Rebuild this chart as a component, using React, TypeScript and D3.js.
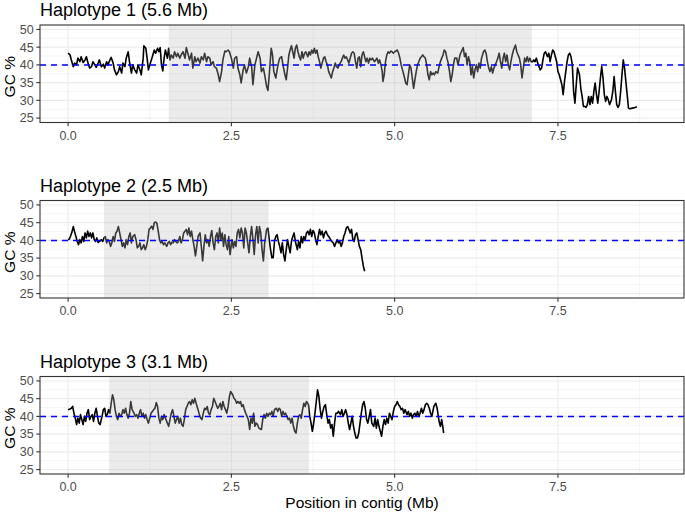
import React from 'react';
import * as d3 from 'd3';

type Pt = [number, number];

// GC content (%) in sliding windows, position in Mb
const hap1: Pt[] = [
  [0.0, 43.3], [0.03, 42.8], [0.05, 41.4], [0.08, 39.5], [0.1, 40.5], [0.13, 40.0], [0.15, 41.9], [0.18, 40.9],
  [0.2, 42.3], [0.23, 40.7], [0.26, 41.4], [0.28, 42.3], [0.31, 40.2], [0.33, 39.1], [0.36, 39.5], [0.38, 40.9],
  [0.41, 40.0], [0.43, 39.3], [0.46, 40.5], [0.48, 41.4], [0.51, 39.5], [0.54, 40.2], [0.56, 39.1], [0.59, 40.9],
  [0.61, 40.0], [0.64, 41.4], [0.66, 42.1], [0.69, 40.5], [0.71, 38.6], [0.74, 37.2], [0.77, 38.1], [0.79, 39.5],
  [0.82, 37.7], [0.84, 40.5], [0.87, 39.5], [0.89, 41.9], [0.92, 43.7], [0.94, 40.9], [0.97, 37.7], [0.99, 40.0],
  [1.02, 38.6], [1.05, 37.7], [1.07, 40.0], [1.1, 38.6], [1.12, 37.2], [1.15, 41.9], [1.16, 45.4], [1.19, 44.7],
  [1.21, 41.9], [1.23, 38.6], [1.26, 40.5], [1.29, 42.3], [1.32, 44.2], [1.34, 43.3], [1.37, 44.7], [1.39, 43.7],
  [1.41, 44.9], [1.43, 40.0], [1.45, 38.3], [1.47, 41.9], [1.49, 44.2], [1.52, 41.9], [1.54, 44.7], [1.56, 41.4],
  [1.58, 42.8], [1.61, 41.9], [1.63, 43.7], [1.66, 42.3], [1.68, 43.3], [1.71, 41.9], [1.73, 42.8], [1.76, 43.7],
  [1.79, 41.9], [1.81, 44.9], [1.84, 42.8], [1.86, 41.4], [1.89, 43.3], [1.91, 39.1], [1.94, 42.3], [1.96, 40.9],
  [1.99, 41.9], [2.02, 40.5], [2.04, 42.3], [2.07, 41.4], [2.09, 43.3], [2.12, 40.9], [2.14, 42.3], [2.17, 41.9],
  [2.19, 40.0], [2.22, 40.9], [2.24, 39.5], [2.27, 39.1], [2.3, 37.2], [2.32, 35.3], [2.35, 38.1], [2.37, 41.4],
  [2.4, 43.9], [2.42, 43.7], [2.45, 44.2], [2.47, 43.7], [2.5, 41.9], [2.53, 39.1], [2.55, 41.9], [2.58, 42.3],
  [2.6, 39.1], [2.63, 37.2], [2.65, 34.9], [2.68, 38.6], [2.7, 40.0], [2.73, 37.7], [2.76, 39.5], [2.78, 41.9],
  [2.81, 39.5], [2.83, 34.4], [2.86, 40.0], [2.91, 43.7], [2.94, 41.9], [2.96, 38.1], [2.99, 39.1], [3.01, 37.2],
  [3.04, 33.9], [3.06, 32.8], [3.08, 37.2], [3.1, 42.3], [3.11, 44.7], [3.13, 42.8], [3.15, 38.1], [3.18, 36.3],
  [3.2, 38.6], [3.22, 40.5], [3.24, 41.9], [3.27, 42.3], [3.29, 40.0], [3.32, 37.2], [3.34, 35.8], [3.36, 39.1],
  [3.38, 42.8], [3.4, 44.2], [3.42, 45.4], [3.44, 43.7], [3.46, 41.9], [3.48, 44.7], [3.5, 45.6], [3.52, 43.7],
  [3.54, 42.3], [3.56, 41.4], [3.58, 43.7], [3.6, 41.9], [3.62, 43.3], [3.64, 43.7], [3.67, 42.3], [3.69, 43.7],
  [3.71, 42.8], [3.73, 44.2], [3.75, 43.3], [3.77, 44.7], [3.79, 43.3], [3.81, 44.2], [3.83, 42.3], [3.85, 40.9],
  [3.87, 39.1], [3.89, 40.5], [3.91, 41.9], [3.93, 42.3], [3.95, 40.9], [3.97, 40.0], [3.99, 38.1], [4.01, 37.2],
  [4.03, 36.3], [4.05, 38.1], [4.07, 39.1], [4.09, 40.5], [4.11, 39.5], [4.13, 39.1], [4.15, 40.0], [4.18, 40.9],
  [4.2, 41.9], [4.22, 42.8], [4.24, 41.9], [4.26, 42.3], [4.28, 41.4], [4.3, 40.5], [4.32, 41.9], [4.34, 43.3],
  [4.36, 43.7], [4.38, 43.3], [4.4, 40.9], [4.42, 39.1], [4.44, 41.9], [4.46, 42.3], [4.48, 39.5], [4.5, 42.8],
  [4.52, 43.7], [4.54, 42.3], [4.56, 40.9], [4.58, 41.9], [4.6, 40.5], [4.62, 41.9], [4.64, 41.4], [4.66, 41.9],
  [4.69, 40.9], [4.71, 41.4], [4.73, 41.9], [4.75, 40.5], [4.77, 41.4], [4.79, 40.0], [4.81, 38.1], [4.82, 35.3],
  [4.84, 37.2], [4.86, 40.9], [4.88, 42.8], [4.9, 43.7], [4.92, 43.3], [4.94, 43.9], [4.96, 43.7], [4.98, 43.3],
  [5.0, 43.7], [5.02, 43.9], [5.04, 44.2], [5.06, 43.3], [5.08, 41.9], [5.1, 40.0], [5.12, 38.6], [5.14, 37.2],
  [5.17, 34.9], [5.19, 34.4], [5.21, 37.2], [5.23, 40.0], [5.25, 39.1], [5.27, 36.3], [5.29, 33.4], [5.31, 35.8],
  [5.33, 38.1], [5.35, 40.0], [5.37, 40.9], [5.39, 41.9], [5.41, 42.3], [5.43, 42.8], [5.45, 42.3], [5.47, 41.9],
  [5.49, 40.0], [5.51, 37.2], [5.53, 35.8], [5.55, 38.1], [5.57, 37.2], [5.59, 37.7], [5.61, 37.2], [5.63, 38.1],
  [5.66, 37.7], [5.68, 39.5], [5.7, 40.9], [5.72, 41.9], [5.74, 42.8], [5.76, 44.2], [5.78, 43.7], [5.8, 41.9],
  [5.82, 40.5], [5.84, 38.1], [5.86, 35.3], [5.88, 37.2], [5.9, 40.0], [5.92, 41.9], [5.95, 41.9], [5.97, 40.0],
  [6.0, 42.8], [6.02, 43.7], [6.05, 44.9], [6.07, 42.3], [6.09, 43.3], [6.11, 40.0], [6.13, 42.3], [6.15, 40.9],
  [6.17, 37.2], [6.19, 39.5], [6.21, 36.3], [6.23, 38.6], [6.25, 40.0], [6.27, 38.1], [6.29, 40.5], [6.31, 39.1],
  [6.33, 41.9], [6.36, 43.7], [6.38, 44.2], [6.4, 43.3], [6.42, 40.9], [6.44, 39.1], [6.46, 38.1], [6.48, 39.5],
  [6.5, 37.7], [6.52, 39.1], [6.54, 40.0], [6.56, 40.9], [6.58, 41.9], [6.6, 43.3], [6.62, 40.9], [6.64, 39.1],
  [6.66, 41.9], [6.68, 43.3], [6.7, 40.9], [6.72, 42.8], [6.74, 40.0], [6.76, 38.6], [6.78, 40.9], [6.8, 42.8],
  [6.82, 44.2], [6.85, 45.6], [6.87, 43.7], [6.89, 42.8], [6.91, 41.9], [6.93, 40.0], [6.95, 36.3], [6.97, 39.1],
  [6.99, 41.9], [7.01, 40.9], [7.03, 42.3], [7.05, 40.9], [7.07, 41.9], [7.09, 40.9], [7.11, 40.9], [7.13, 41.4],
  [7.15, 40.9], [7.17, 41.9], [7.19, 40.5], [7.21, 39.5], [7.23, 38.6], [7.25, 39.1], [7.27, 41.4], [7.29, 43.3],
  [7.31, 43.7], [7.34, 42.3], [7.36, 43.3], [7.38, 40.9], [7.4, 42.8], [7.42, 44.2], [7.44, 43.7], [7.46, 42.3],
  [7.48, 40.9], [7.5, 38.1], [7.52, 37.2], [7.54, 35.8], [7.56, 34.4], [7.58, 31.6], [7.6, 35.3], [7.62, 38.1],
  [7.64, 40.9], [7.66, 42.8], [7.68, 43.3], [7.7, 42.3], [7.72, 40.0], [7.74, 32.5], [7.76, 29.2], [7.78, 34.4],
  [7.8, 39.1], [7.83, 37.2], [7.85, 33.4], [7.87, 31.1], [7.89, 28.3], [7.91, 28.3], [7.93, 28.0], [7.95, 28.8],
  [7.97, 31.1], [7.99, 28.8], [8.01, 31.1], [8.03, 29.2], [8.05, 32.5], [8.07, 34.9], [8.09, 31.6], [8.11, 29.2],
  [8.13, 32.5], [8.15, 36.3], [8.17, 39.5], [8.19, 36.3], [8.21, 31.6], [8.23, 29.7], [8.25, 31.1], [8.27, 30.2],
  [8.29, 28.8], [8.32, 30.2], [8.34, 32.5], [8.36, 36.7], [8.38, 32.5], [8.4, 28.8], [8.42, 28.0], [8.44, 28.8],
  [8.46, 32.5], [8.48, 37.2], [8.5, 41.4], [8.52, 39.1], [8.54, 35.3], [8.56, 31.6], [8.58, 27.8], [8.6, 27.6],
  [8.64, 27.8], [8.68, 28.0], [8.71, 28.2],
];

const hap2: Pt[] = [
  [0.0, 40.2], [0.02, 40.4], [0.04, 41.3], [0.06, 42.4], [0.08, 43.9], [0.1, 42.4], [0.12, 41.1], [0.14, 39.7],
  [0.16, 38.8], [0.18, 40.2], [0.2, 39.3], [0.22, 41.1], [0.24, 39.7], [0.26, 42.1], [0.28, 40.7], [0.3, 42.6],
  [0.32, 41.1], [0.34, 42.1], [0.36, 40.7], [0.38, 42.1], [0.4, 40.2], [0.42, 39.7], [0.44, 40.7], [0.46, 39.4],
  [0.48, 39.7], [0.51, 40.2], [0.53, 39.7], [0.55, 40.7], [0.57, 41.1], [0.59, 39.3], [0.61, 40.2], [0.63, 39.7],
  [0.65, 38.3], [0.67, 39.3], [0.69, 41.1], [0.71, 39.7], [0.73, 42.1], [0.75, 42.6], [0.77, 43.9], [0.79, 42.1],
  [0.81, 40.2], [0.83, 38.3], [0.85, 39.3], [0.87, 37.9], [0.89, 40.2], [0.91, 38.8], [0.93, 41.1], [0.95, 42.1],
  [0.97, 39.3], [0.99, 41.1], [1.02, 41.6], [1.04, 40.2], [1.06, 37.9], [1.08, 38.3], [1.1, 39.3], [1.12, 37.4],
  [1.14, 37.9], [1.16, 38.8], [1.18, 37.4], [1.2, 38.3], [1.22, 40.2], [1.24, 43.1], [1.26, 43.5], [1.28, 44.0],
  [1.3, 43.1], [1.32, 45.0], [1.34, 45.2], [1.36, 44.8], [1.38, 42.6], [1.4, 40.2], [1.42, 39.3], [1.44, 39.7],
  [1.46, 38.8], [1.48, 39.3], [1.51, 38.3], [1.53, 39.3], [1.55, 39.7], [1.57, 38.8], [1.59, 39.5], [1.61, 39.3],
  [1.63, 40.2], [1.65, 39.7], [1.67, 39.3], [1.69, 39.7], [1.71, 41.1], [1.73, 39.3], [1.75, 40.2], [1.77, 42.1],
  [1.79, 42.6], [1.81, 43.1], [1.83, 41.6], [1.85, 43.5], [1.87, 41.1], [1.89, 42.6], [1.91, 40.2], [1.93, 38.3],
  [1.95, 35.6], [1.97, 38.3], [1.99, 41.1], [2.02, 42.1], [2.04, 38.3], [2.06, 34.2], [2.08, 38.3], [2.1, 41.6],
  [2.12, 39.3], [2.14, 40.2], [2.16, 38.3], [2.18, 41.1], [2.2, 42.8], [2.22, 39.3], [2.24, 37.4], [2.26, 41.1],
  [2.28, 42.1], [2.3, 39.3], [2.32, 43.5], [2.34, 40.2], [2.36, 42.1], [2.38, 38.3], [2.4, 41.6], [2.42, 38.8],
  [2.44, 37.4], [2.46, 41.1], [2.48, 36.0], [2.51, 40.2], [2.53, 37.9], [2.55, 39.7], [2.57, 38.3], [2.59, 42.1],
  [2.61, 43.1], [2.63, 40.7], [2.65, 43.5], [2.67, 42.1], [2.69, 37.9], [2.71, 43.5], [2.73, 42.1], [2.75, 39.3],
  [2.77, 36.5], [2.79, 41.1], [2.81, 43.9], [2.83, 40.2], [2.85, 36.0], [2.87, 41.6], [2.89, 43.9], [2.91, 39.3],
  [2.93, 43.9], [2.95, 42.1], [2.97, 37.4], [2.99, 34.2], [3.01, 39.3], [3.04, 43.1], [3.06, 43.5], [3.08, 40.2],
  [3.1, 37.4], [3.12, 35.1], [3.14, 35.1], [3.16, 39.7], [3.18, 41.1], [3.2, 41.6], [3.22, 39.7], [3.24, 38.3],
  [3.26, 36.5], [3.28, 39.3], [3.3, 36.0], [3.32, 34.2], [3.34, 37.4], [3.36, 40.2], [3.38, 38.3], [3.4, 36.5],
  [3.42, 39.7], [3.44, 41.1], [3.46, 42.1], [3.48, 39.7], [3.51, 37.4], [3.53, 39.7], [3.55, 37.9], [3.57, 41.1],
  [3.59, 39.3], [3.61, 41.1], [3.63, 40.2], [3.65, 42.1], [3.67, 42.6], [3.69, 41.6], [3.71, 43.1], [3.73, 41.1],
  [3.75, 42.8], [3.77, 42.1], [3.79, 40.2], [3.81, 38.8], [3.83, 41.1], [3.85, 43.1], [3.87, 41.6], [3.89, 42.6],
  [3.91, 40.7], [3.93, 42.1], [3.95, 42.6], [3.97, 41.6], [3.99, 41.1], [4.02, 40.2], [4.04, 39.7], [4.06, 39.3],
  [4.08, 38.3], [4.1, 39.3], [4.12, 40.2], [4.14, 39.3], [4.16, 39.7], [4.18, 38.3], [4.2, 39.3], [4.22, 41.1],
  [4.24, 42.1], [4.26, 43.5], [4.28, 43.9], [4.3, 43.1], [4.32, 42.1], [4.34, 43.1], [4.36, 40.2], [4.38, 39.7],
  [4.4, 41.6], [4.42, 42.1], [4.44, 40.2], [4.46, 38.3], [4.48, 37.4], [4.5, 35.1], [4.52, 32.8], [4.54, 31.3],
];

const hap3: Pt[] = [
  [0.0, 41.9], [0.03, 42.1], [0.05, 42.3], [0.07, 42.8], [0.09, 40.9], [0.11, 39.5], [0.13, 37.7], [0.15, 39.5],
  [0.17, 38.1], [0.19, 40.5], [0.21, 39.1], [0.23, 37.7], [0.25, 40.0], [0.27, 38.6], [0.29, 40.9], [0.31, 41.9],
  [0.33, 39.1], [0.35, 40.0], [0.37, 40.5], [0.39, 38.6], [0.41, 40.9], [0.43, 42.3], [0.45, 40.0], [0.47, 38.1],
  [0.49, 37.7], [0.52, 40.0], [0.54, 41.9], [0.56, 42.3], [0.58, 40.0], [0.6, 40.5], [0.62, 41.9], [0.64, 40.9],
  [0.66, 43.7], [0.68, 46.1], [0.7, 44.7], [0.72, 41.9], [0.74, 40.0], [0.76, 39.1], [0.78, 40.9], [0.8, 40.0],
  [0.82, 40.5], [0.84, 41.9], [0.86, 40.9], [0.88, 42.3], [0.9, 40.5], [0.92, 39.5], [0.94, 40.9], [0.96, 44.2],
  [0.98, 41.9], [1.01, 40.9], [1.03, 40.0], [1.05, 40.5], [1.07, 39.5], [1.09, 40.9], [1.11, 41.9], [1.13, 40.0],
  [1.15, 40.9], [1.17, 39.5], [1.19, 40.5], [1.21, 39.1], [1.23, 38.1], [1.25, 39.5], [1.27, 40.9], [1.29, 41.4],
  [1.31, 41.9], [1.33, 42.3], [1.35, 43.9], [1.37, 42.8], [1.39, 39.5], [1.41, 38.1], [1.43, 40.0], [1.45, 39.1],
  [1.47, 40.5], [1.49, 39.5], [1.52, 38.1], [1.54, 37.2], [1.56, 39.1], [1.58, 40.9], [1.6, 41.9], [1.62, 40.0],
  [1.64, 38.1], [1.66, 39.1], [1.68, 40.0], [1.7, 38.1], [1.72, 39.5], [1.74, 37.7], [1.76, 37.2], [1.78, 39.1],
  [1.8, 41.9], [1.82, 42.8], [1.84, 43.7], [1.86, 44.2], [1.88, 43.3], [1.9, 44.7], [1.92, 43.7], [1.94, 45.1],
  [1.96, 43.7], [1.99, 41.9], [2.01, 40.5], [2.03, 39.5], [2.05, 39.1], [2.07, 40.9], [2.09, 42.3], [2.11, 41.9],
  [2.13, 42.8], [2.15, 40.9], [2.17, 40.5], [2.19, 41.9], [2.21, 42.8], [2.23, 45.1], [2.25, 44.2], [2.27, 43.3],
  [2.29, 42.3], [2.31, 42.8], [2.33, 43.7], [2.35, 41.9], [2.37, 44.2], [2.39, 42.8], [2.41, 41.9], [2.43, 40.9],
  [2.45, 42.8], [2.47, 45.6], [2.49, 47.0], [2.52, 46.1], [2.54, 45.1], [2.56, 44.7], [2.58, 43.7], [2.6, 44.2],
  [2.62, 43.7], [2.64, 44.2], [2.66, 42.8], [2.68, 43.3], [2.7, 41.9], [2.72, 40.9], [2.74, 40.0], [2.76, 39.1],
  [2.78, 36.3], [2.8, 39.5], [2.82, 38.1], [2.84, 40.9], [2.86, 37.2], [2.88, 38.1], [2.9, 37.7], [2.92, 36.7],
  [2.96, 36.3], [2.98, 39.1], [3.0, 40.5], [3.02, 39.5], [3.04, 40.9], [3.06, 40.0], [3.08, 40.9], [3.1, 40.5],
  [3.12, 41.4], [3.14, 40.0], [3.16, 41.9], [3.19, 42.3], [3.21, 41.4], [3.23, 42.3], [3.25, 41.9], [3.27, 40.0],
  [3.29, 41.4], [3.31, 40.5], [3.33, 40.9], [3.35, 40.0], [3.37, 39.1], [3.39, 39.5], [3.41, 38.1], [3.43, 39.5],
  [3.45, 37.2], [3.47, 35.8], [3.49, 35.3], [3.51, 38.1], [3.53, 40.0], [3.55, 40.5], [3.57, 39.5], [3.59, 41.9],
  [3.61, 43.7], [3.63, 42.8], [3.65, 44.2], [3.68, 43.3], [3.7, 40.0], [3.72, 38.1], [3.74, 35.8], [3.76, 38.1],
  [3.78, 40.9], [3.8, 44.2], [3.82, 47.5], [3.84, 45.6], [3.86, 41.9], [3.88, 39.5], [3.9, 41.4], [3.92, 42.8],
  [3.94, 43.3], [3.96, 40.5], [3.98, 38.1], [4.0, 39.1], [4.02, 36.7], [4.04, 37.7], [4.06, 34.4], [4.08, 38.1],
  [4.1, 40.9], [4.12, 40.9], [4.14, 41.4], [4.17, 40.5], [4.19, 41.9], [4.21, 40.0], [4.23, 40.9], [4.25, 41.9],
  [4.27, 40.5], [4.29, 38.1], [4.31, 36.3], [4.33, 38.1], [4.35, 40.0], [4.37, 37.2], [4.39, 35.3], [4.41, 33.9],
  [4.43, 33.9], [4.45, 35.3], [4.47, 38.1], [4.49, 40.9], [4.51, 43.3], [4.53, 44.2], [4.55, 42.3], [4.57, 39.1],
  [4.59, 38.1], [4.61, 40.0], [4.63, 41.9], [4.65, 38.1], [4.68, 37.2], [4.7, 39.5], [4.72, 36.7], [4.74, 39.1],
  [4.76, 37.2], [4.78, 35.8], [4.8, 34.4], [4.82, 37.2], [4.84, 39.1], [4.86, 37.7], [4.88, 39.5], [4.9, 38.1],
  [4.92, 40.9], [4.94, 40.0], [4.96, 39.1], [4.98, 41.4], [5.0, 42.8], [5.02, 43.3], [5.04, 44.2], [5.06, 43.3],
  [5.08, 42.8], [5.1, 41.9], [5.12, 42.3], [5.14, 40.9], [5.16, 41.9], [5.19, 40.5], [5.21, 41.4], [5.23, 40.0],
  [5.25, 40.9], [5.27, 39.5], [5.29, 40.5], [5.31, 40.9], [5.33, 40.0], [5.35, 41.4], [5.37, 40.0], [5.39, 40.9],
  [5.41, 42.3], [5.43, 40.9], [5.45, 41.9], [5.47, 43.3], [5.49, 43.7], [5.51, 43.3], [5.53, 42.3], [5.55, 40.9],
  [5.57, 40.0], [5.59, 41.9], [5.6, 42.8], [5.63, 43.7], [5.65, 42.3], [5.68, 38.6], [5.7, 37.2], [5.72, 39.1],
  [5.74, 36.7], [5.75, 35.3],
];

const series = [hap1, hap2, hap3];
const titles = ['Haplotype 1 (5.6 Mb)', 'Haplotype 2 (2.5 Mb)', 'Haplotype 3 (3.1 Mb)'];
// highlighted interval per haplotype (start, end in Mb)
const regions: [number, number][] = [[1.54, 7.1], [0.55, 3.07], [0.63, 3.69]];
const xTicks = [0, 2.5, 5, 7.5];
const xMinor = [1.25, 3.75, 6.25, 8.75];
const yTicks = [25, 30, 35, 40, 45, 50];
const yMinor = [27.5, 32.5, 37.5, 42.5, 47.5];
const meanGC = 40;

const W = 685;
const H = 513;
const left = 40;
const right = 684;
const panelTops = [25, 200.5, 376.5];
const panelH = 97.5;
const font = '"Liberation Sans", Arial, Helvetica, sans-serif';
const grid = '#EBEBEB';
const dark = '#333333';
const tickText = '#4D4D4D';

const x = d3.scaleLinear().domain([-0.43, 9.43]).range([left, right]);

function Panel({ data, title, region, top }: { data: Pt[]; title: string; region: [number, number]; top: number }) {
  const y = d3.scaleLinear().domain([23.75, 51.25]).range([top + panelH, top]);
  const line = d3.line<Pt>().x(d => x(d[0])).y(d => y(d[1]));
  const bottom = top + panelH;
  return (
    <g>
      <text x={left} y={top - 8.6} fontSize={18} fill="#000">{title}</text>
      <rect x={left} y={top} width={right - left} height={panelH} fill="#fff" />
      {yMinor.map(v => (
        <line key={'ym' + v} x1={left} x2={right} y1={y(v)} y2={y(v)} stroke={grid} strokeWidth={0.55} />
      ))}
      {xMinor.map(v => (
        <line key={'xm' + v} x1={x(v)} x2={x(v)} y1={top} y2={bottom} stroke={grid} strokeWidth={0.55} />
      ))}
      {yTicks.map(v => (
        <line key={'yg' + v} x1={left} x2={right} y1={y(v)} y2={y(v)} stroke={grid} strokeWidth={1.1} />
      ))}
      {xTicks.map(v => (
        <line key={'xg' + v} x1={x(v)} x2={x(v)} y1={top} y2={bottom} stroke={grid} strokeWidth={1.1} />
      ))}
      <path d={line(data) ?? ''} fill="none" stroke="#000" strokeWidth={1.6} strokeLinejoin="round" />
      <rect x={x(region[0])} y={top} width={x(region[1]) - x(region[0])} height={panelH} fill="#BEBEBE" fillOpacity={0.3} />
      <line x1={left} x2={right} y1={y(meanGC)} y2={y(meanGC)} stroke="#0000FF" strokeWidth={1.5} strokeDasharray="6,5" />
      <rect x={left} y={top} width={right - left} height={panelH} fill="none" stroke={dark} strokeWidth={1.1} />
      {yTicks.map(v => (
        <g key={'yt' + v}>
          <line x1={left - 3.7} x2={left} y1={y(v)} y2={y(v)} stroke={dark} strokeWidth={1.1} />
          <text x={left - 6.3} y={y(v)} dy="0.35em" textAnchor="end" fontSize={12.5} fill={tickText}>{v}</text>
        </g>
      ))}
      {xTicks.map(v => (
        <g key={'xt' + v}>
          <line x1={x(v)} x2={x(v)} y1={bottom} y2={bottom + 3.7} stroke={dark} strokeWidth={1.1} />
          <text x={x(v)} y={bottom + 17.3} textAnchor="middle" fontSize={12.5} fill={tickText}>{v.toFixed(1)}</text>
        </g>
      ))}
      <text transform={`translate(14.5,${top + panelH / 2 + 3}) rotate(-90)`} textAnchor="middle" fontSize={15.5} fill="#000">GC %</text>
    </g>
  );
}

export default function App() {
  return (
    <svg width={W} height={H} style={{ position: 'absolute', left: 0, top: 0, background: '#fff' }} fontFamily={font}>
      <rect width={W} height={H} fill="#fff" />
      {series.map((d, i) => (
        <Panel key={i} data={d} title={titles[i]} region={regions[i]} top={panelTops[i]} />
      ))}
      <text x={(left + right) / 2} y={508} textAnchor="middle" fontSize={15.5} fill="#000">Position in contig (Mb)</text>
    </svg>
  );
}
